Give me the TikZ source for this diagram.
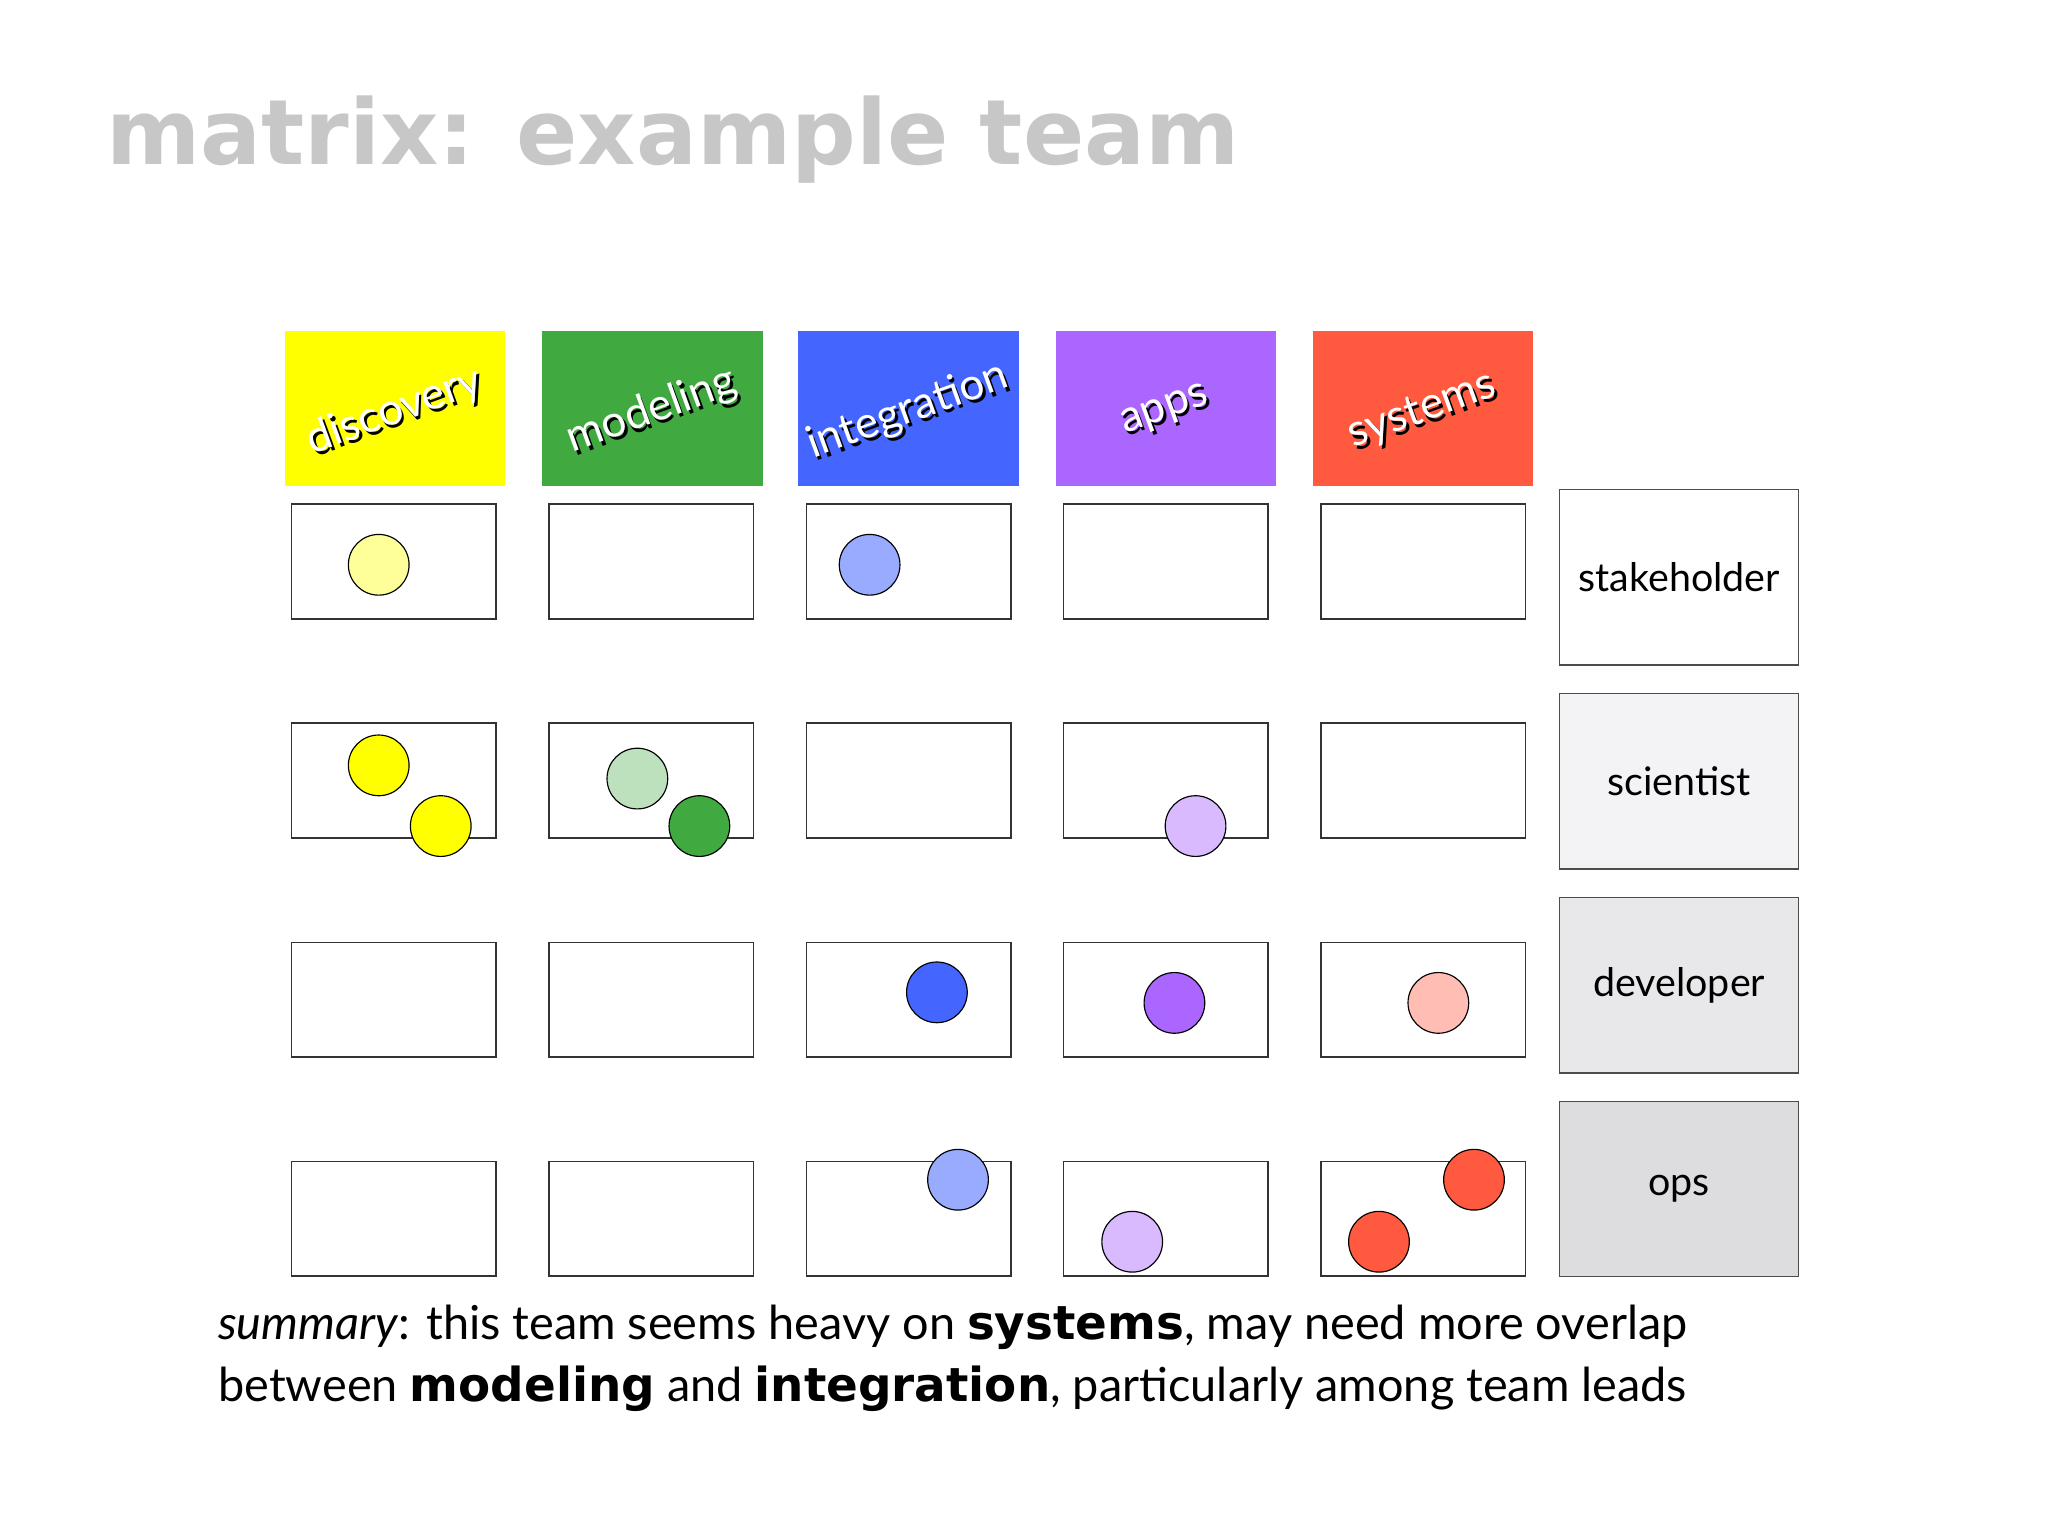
\documentclass[tikz,border=0pt]{standalone}
\usepackage{fontspec}
\setmainfont{Lato}
\newfontfamily\titlefont{DejaVu Sans}
\begin{document}
\begin{tikzpicture}[x=0.02cm,y=-0.02cm,
  cell/.style={draw=black!80,line width=0.6pt,fill=white},
  dot/.style={draw=black,line width=0.5pt},
  role/.style={draw=black!70,line width=0.6pt,minimum width=181*0.02cm,minimum height=133*0.02cm,font=\fontsize{17}{20}\selectfont,inner sep=0pt}]
\useasboundingbox (0,0) rectangle (1552,1164);
\fill[white] (0,0) rectangle (1552,1164);
\node[anchor=base west,inner sep=0pt,text=black!22,font=\titlefont\bfseries\fontsize{39}{44}\selectfont] (title) at (80,125) {matrix: example team};
\definecolor{cY}{HTML}{FFFF00}\definecolor{cG}{HTML}{40AA40}\definecolor{cB}{HTML}{4466FF}
\definecolor{cP}{HTML}{AA66FF}\definecolor{cR}{HTML}{FF5A40}
\foreach \x/\c/\t [count=\i] in {216/cY/discovery,411/cG/modeling,605/cB/integration,800/cP/apps,995/cR/systems}{
  \fill[\c] (\x,251) rectangle ++(167,117);
  \node[rotate=20,text=black,font=\fontsize{19}{22}\selectfont] at (\x+85,314) {\t};
  \node[rotate=20,text=white,font=\fontsize{19}{22}\selectfont] (h\i) at (\x+83,311.5) {\t};
}
\foreach \y [count=\j] in {382,548,714,880}{
  \foreach \x [count=\i] in {221,416,611,806,1001}{
    \draw[cell] (\x,\y) rectangle ++(155,87);
    \coordinate (c\i\j) at (\x,\y);
  }
}
\definecolor{r1}{HTML}{FFFFFF}\definecolor{r2}{HTML}{F3F3F5}\definecolor{r3}{HTML}{E8E8EA}\definecolor{r4}{HTML}{DDDDDF}
\node[role,fill=r1] (stakeholder) at (1272.5,437.5) {stakeholder};
\node[role,fill=r2] (scientist) at (1272.5,592) {scientist};
\node[role,fill=r3] (developer) at (1272.5,746.5) {developer};
\node[role,fill=r4] (ops) at (1272.5,901) {ops};
\foreach \px/\py/\c in {287/428/cY!40,659/428/cB!55,287/580/cY,334/626/cY,483/590/cG!35,530/626/cG,906/626/cP!45,710/752/cB,890/760/cP,1090/760/cR!40,726/894/cB!55,858/941/cP!45,1117/894/cR,1045/941/cR}{
  \draw[dot,fill=\c] (\px,\py) circle (23);
}
\node[anchor=base west,inner sep=0pt,font=\fontsize{20.2}{25}\selectfont] (summary) at (165,1015) {\textit{summary}: this team seems heavy on {\titlefont\bfseries systems}, may need more overlap};
\node[anchor=base west,inner sep=0pt,font=\fontsize{20.2}{25}\selectfont] (summary2) at (165,1062) {between {\titlefont\bfseries modeling} and {\titlefont\bfseries integration}, particularly among team leads};
\end{tikzpicture}
\end{document}
